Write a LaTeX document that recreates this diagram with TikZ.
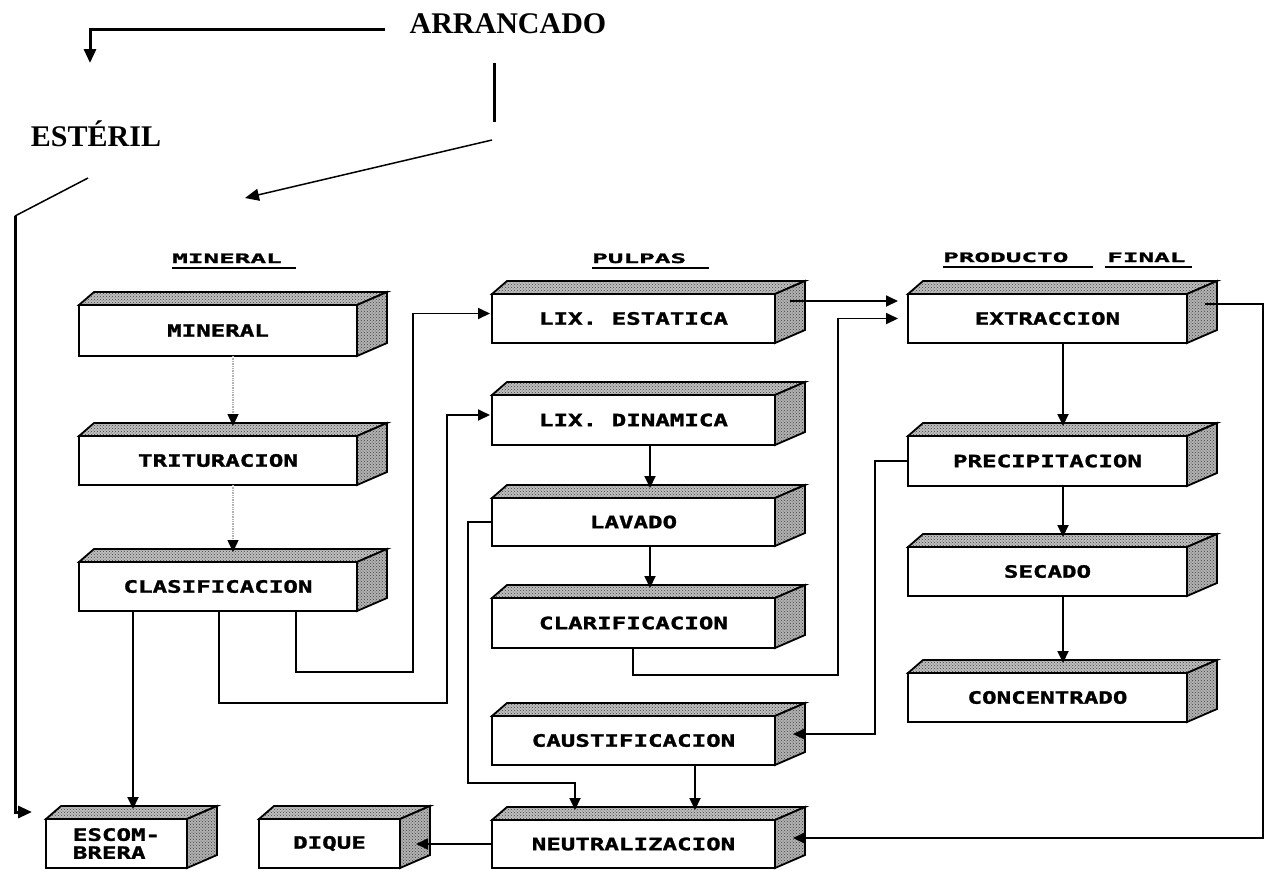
\documentclass[tikz,border=0pt]{standalone}
\usepackage{fontspec}
\setmainfont{Liberation Serif}
\newfontfamily\boxfont{DejaVu Sans Mono}[FakeStretch=1.42,FakeBold=1.6]
\newfontfamily\hdrfont{DejaVu Sans Mono}[FakeStretch=2.0,FakeBold=1.6]
\usetikzlibrary{arrows.meta,calc,patterns}
\newcommand\boxfaces[1]{%
  \draw[face] (#1.north west) -- ++(15,-13) -- ($(#1.north east)+(30,-13)$) -- (#1.north east) -- cycle;
  \draw[face,preaction={fill=gray!60}] (#1.north east) -- ++(30,-13) -- ($(#1.south east)+(30,-13)$) -- (#1.south east) -- cycle;
}
\begin{document}
\begin{tikzpicture}[x=1pt,y=-1pt,
  pbox/.style={draw,line width=2pt,fill=white,anchor=north west,outer sep=0pt,inner sep=0pt,
    font=\boxfont\bfseries\fontsize{17}{20}\selectfont},
  face/.style={line width=1.8pt,preaction={fill=gray!50},pattern=crosshatch dots,pattern color=black!75},
  conn/.style={draw,line width=1.8pt,-{Triangle[length=12pt,width=11pt]}},
  intop/.style={shorten >=10pt},
  dotc/.style={draw=gray!60,densely dotted,line width=1.4pt,-{Triangle[length=12pt,width=11pt,color=black]}},
  hdr/.style={font=\hdrfont\bfseries\fontsize{13}{15}\selectfont,inner sep=0pt,anchor=base west},
  uline/.style={line width=2.2pt},
  big/.style={font=\bfseries\fontsize{30}{30}\selectfont,inner sep=0pt},
  thick3/.style={line width=3pt},
  bigarrow/.style={-{Triangle[length=14pt,width=12pt]}}
]
\path[use as bounding box] (0,0) rectangle (1265,871);

% ---------- top labels ----------
\node[big] (arr) at (508,24) {ARRANCADO};
\node[big] (est) at (96,134) {ESTÉRIL};
\coordinate (a1) at ($(arr.west)+(-24,5)$);
\coordinate (a2) at (90,63);
\draw[thick3,bigarrow] (a1) -| (a2);
\coordinate (v1) at (494,63);
\coordinate (v2) at (494,122);
\draw[thick3] (v1) -- (v2);
\coordinate (d1) at (492,140);
\coordinate (d2) at (245,198);
\draw[line width=1.5pt,bigarrow] (d1) -- (d2);
\coordinate (s1) at (88,178);
\coordinate (s2) at (15,216);
\coordinate (s3) at (32,812);
\draw[line width=1.5pt] (s1) -- (s2);
\draw[thick3,bigarrow] (s2) |- (s3);

% ---------- column headers ----------
\node[hdr] (h1) at (172,263) {MINERAL};
\draw[uline] (172,268) -- (296,268);
\node[hdr] (h2) at (592,263) {PULPAS};
\draw[uline] (592,268) -- (709,268);
\node[hdr] (h3a) at (943,262) {PRODUCTO};
\draw[uline] (943,267) -- (1093,267);
\node[hdr] (h3b) at (1107,262) {FINAL};
\draw[uline] (1105,267) -- (1192,267);

% ---------- boxes ----------
\node[pbox,minimum width=278,minimum height=51] (mineral) at (79,305) {MINERAL};
\node[pbox,minimum width=278,minimum height=49] (tritur) at (79,436) {TRITURACION};
\node[pbox,minimum width=278,minimum height=49] (clasif) at (79,562) {CLASIFICACION};
\node[pbox,minimum width=283,minimum height=49] (lixest) at (492,294) {LIX. ESTATICA};
\node[pbox,minimum width=283,minimum height=50] (lixdin) at (492,395) {LIX. DINAMICA};
\node[pbox,minimum width=283,minimum height=48] (lavado) at (492,498) {LAVADO};
\node[pbox,minimum width=283,minimum height=50] (clarif) at (492,598) {CLARIFICACION};
\node[pbox,minimum width=283,minimum height=49] (caust) at (492,716) {CAUSTIFICACION};
\node[pbox,minimum width=283,minimum height=48] (neutral) at (492,820) {NEUTRALIZACION};
\node[pbox,minimum width=279,minimum height=49] (extrac) at (908,294) {EXTRACCION};
\node[pbox,minimum width=279,minimum height=50] (precip) at (908,436) {PRECIPITACION};
\node[pbox,minimum width=279,minimum height=49] (secado) at (908,547) {SECADO};
\node[pbox,minimum width=279,minimum height=49] (concent) at (908,673) {CONCENTRADO};
\node[pbox,minimum width=141,minimum height=49,align=left,font=\boxfont\bfseries\fontsize{17}{18}\selectfont] (escomb) at (46,819) {ESCOM-\\BRERA};
\node[pbox,minimum width=141,minimum height=49] (dique) at (259,819) {DIQUE};

\foreach \b in {mineral,tritur,clasif,lixest,lixdin,lavado,clarif,caust,neutral,extrac,precip,secado,concent,escomb,dique}{\boxfaces{\b}}

% ---------- connectors ----------
\draw[dotc,intop] (233,0 |- mineral.south) -- (233,0 |- tritur.north);
\draw[dotc,intop] (233,0 |- tritur.south) -- (233,0 |- clasif.north);
\draw[conn,intop] (133,0 |- clasif.south) -- (133,0 |- escomb.north);
\draw[conn,shorten >=2pt] (219,0 |- clasif.south) |- (447,703) |- ([yshift=5pt]lixdin.west);
\draw[conn,shorten >=2pt] (296,0 |- clasif.south) |- (413,672) |- ([yshift=5pt]lixest.west);
\draw[conn,intop] (650,0 |- lixdin.south) -- (650,0 |- lavado.north);
\draw[conn,intop] (650,0 |- lavado.south) -- (650,0 |- clarif.north);
\draw[conn,intop] (lavado.west) -| (468,783) -| (575,0 |- neutral.north);
\draw[conn,shorten >=10pt] (633,0 |- clarif.south) |- (838,675) |- (extrac.west);
\draw[conn,shorten >=10pt] ($(lixest.north east)+(15,7)$) -- ($(extrac.north west)+(0,7)$);
\draw[conn,intop] (1063,0 |- extrac.south) -- (1063,0 |- precip.north);
\draw[conn,intop] (1063,0 |- precip.south) -- (1063,0 |- secado.north);
\draw[conn,intop] (1063,0 |- secado.south) -- (1063,0 |- concent.north);
\draw[conn] (precip.west) -| (875,734) -- ($(caust.north east)+(18,18)$);
\draw[conn,intop] (695,0 |- caust.south) -- (695,0 |- neutral.north);
\draw[conn] ($(extrac.north east)+(18,10)$) -| (1263,838) -- ($(neutral.north east)+(18,18)$);
\draw[conn] (neutral.west) -- ($(dique.north east)+(16,25)$);
\end{tikzpicture}
\end{document}
